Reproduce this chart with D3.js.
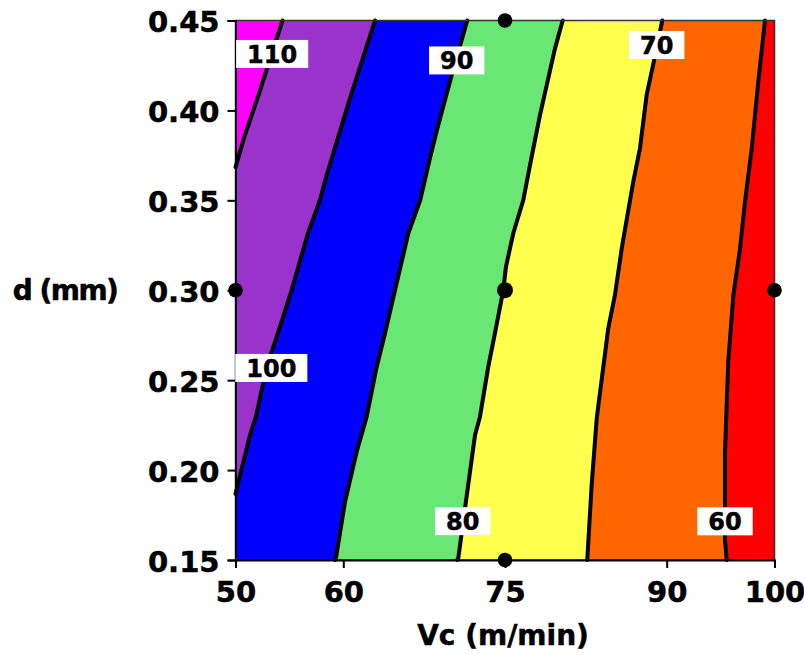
<!DOCTYPE html>
<html>
<head>
<meta charset="utf-8">
<script src="https://cdn.jsdelivr.net/npm/d3@7"></script>
<style>
  body { margin: 0; background: #fff; }
  text { font-family: "DejaVu Sans", Verdana, sans-serif; font-weight: bold; fill: #000; stroke: #000; stroke-width: 0.5px; }
</style>
</head>
<body>
<svg id="chart" width="804" height="655"></svg>
<script>
// Axis ticks
const xTicks = [50, 60, 75, 90, 100];
const yTicks = [0.15, 0.20, 0.25, 0.30, 0.35, 0.40, 0.45];

// Contour levels and the band colours (lowest band first: <60, 60-70, ..., >110)
const levels = [60, 70, 80, 90, 100, 110];
const bandColors = ["#FF0000", "#FF6600", "#FFFF4D", "#69E673", "#0000FF", "#9933CC", "#FF00FF"];

// Contour lines as [Vc, d] points, from the top edge downwards
const line60 = [[99.12, 0.45], [98.50, 0.416], [97.89, 0.379], [97.26, 0.349], [96.80, 0.323], [96.18, 0.297], [95.71, 0.260], [95.41, 0.210], [95.41, 0.161], [95.57, 0.15]];
const line70 = [[89.59, 0.45], [89.07, 0.4345], [88.14, 0.4086], [87.52, 0.3789], [86.90, 0.3604], [85.83, 0.3233], [85.20, 0.2974], [84.58, 0.2788], [83.51, 0.2288], [83.04, 0.1917], [82.63, 0.15]];
const line80 = [[80.35, 0.45], [79.64, 0.4345], [78.25, 0.3975], [77.32, 0.3696], [76.70, 0.3502], [75.77, 0.3317], [75.09, 0.3131], [74.84, 0.3001], [74.54, 0.2908], [74.07, 0.2761], [73.45, 0.2575], [72.68, 0.2297], [72.22, 0.2195], [71.50, 0.1880], [70.67, 0.1511], [70.57, 0.15]];
const line90 = [[71.50, 0.45], [70.06, 0.4197], [68.81, 0.3919], [68.04, 0.3735], [67.14, 0.3502], [66.03, 0.3317], [64.80, 0.3001], [63.87, 0.2761], [63.10, 0.2575], [62.17, 0.2297], [61.24, 0.2102], [60.16, 0.1824], [59.32, 0.1511], [59.23, 0.15]];
const line100 = [[62.94, 0.45], [60.62, 0.4067], [58.46, 0.3641], [57.84, 0.3502], [56.73, 0.3318], [55.21, 0.3001], [53.94, 0.2762], [52.89, 0.2575], [51.90, 0.2297], [51.35, 0.2195], [50.00, 0.1867]];
const line110 = [[54.36, 0.45], [52.14, 0.4086], [50.79, 0.3847], [50.00, 0.3685]];
const contourLines = [line60, line70, line80, line90, line100, line110];

// Where each level label sits on its line
const labelAt = [[95.41, 0.1715], [89.07, 0.4364], [71.08, 0.1716], [70.52, 0.4278], [53.32, 0.2568], [53.40, 0.4314]];

// Experimental design points (Vc, d)
const designPoints = [[75, 0.45], [50, 0.30], [75, 0.30], [100, 0.30], [75, 0.15]];

const svg = d3.select("#chart");
const x = d3.scaleLinear().domain([50, 100]).range([235.5, 774.5]);
const y = d3.scaleLinear().domain([0.15, 0.45]).range([560, 20.5]);
const [xMin, xMax] = x.domain();
const [yMin, yMax] = y.domain();

const plot = svg.append("g");

// Lowest band fills the whole plot; every level then paints the area left of its line
plot.append("rect")
  .attr("x", x(xMin)).attr("y", y(yMax))
  .attr("width", x(xMax) - x(xMin)).attr("height", y(yMin) - y(yMax))
  .attr("fill", bandColors[0]);

const poly = d3.line().x(d => x(d[0])).y(d => y(d[1]));
contourLines.forEach((pts, i) => {
  const last = pts[pts.length - 1];
  const ring = pts.concat([[xMin, last[1]], [xMin, pts[0][1]]]);
  plot.append("path")
    .attr("d", poly(ring) + "Z")
    .attr("fill", bandColors[i + 1]);
});

// Contour lines
contourLines.forEach(pts => {
  plot.append("path")
    .attr("d", poly(pts))
    .attr("fill", "none")
    .attr("stroke", "#000")
    .attr("stroke-width", 4)
    .attr("stroke-linejoin", "round")
    .attr("stroke-linecap", "round");
});

// Plot frame
svg.append("rect")
  .attr("x", x(xMin)).attr("y", y(yMax))
  .attr("width", x(xMax) - x(xMin)).attr("height", y(yMin) - y(yMax))
  .attr("fill", "none").attr("stroke", "#333").attr("stroke-width", 1.5);

// Axes
const xAxis = svg.append("g")
  .attr("transform", `translate(0,${y(yMin)})`)
  .call(d3.axisBottom(x).tickValues(xTicks).tickSize(8).tickPadding(10).tickFormat(d3.format("d")));
const yAxis = svg.append("g")
  .attr("transform", `translate(${x(xMin)},0)`)
  .call(d3.axisLeft(y).tickValues(yTicks).tickSize(8).tickPadding(10).tickFormat(d3.format(".2f")));
[xAxis, yAxis].forEach(g => {
  g.select(".domain").attr("stroke", "#000").attr("stroke-width", 2);
  g.selectAll(".tick line").attr("stroke", "#000").attr("stroke-width", 2);
  g.selectAll(".tick text")
    .attr("font-family", "DejaVu Sans, Verdana, sans-serif")
    .attr("font-weight", "bold").attr("font-size", 29).attr("fill", "#000");
});
xAxis.selectAll(".tick text").attr("dy", null).attr("y", 42);
yAxis.selectAll(".tick text").attr("dy", null).attr("y", 11).attr("x", -16);

// Axis titles
svg.append("text")
  .attr("x", 503).attr("y", 645)
  .attr("text-anchor", "middle").attr("font-size", 28)
  .text("Vc (m/min)");
svg.append("text")
  .attr("x", 65).attr("y", 300)
  .attr("text-anchor", "middle").attr("font-size", 28).attr("letter-spacing", -1.5)
  .text("d (mm)");

// Design points
svg.append("g").selectAll("circle")
  .data(designPoints)
  .join("circle")
  .attr("cx", d => x(d[0])).attr("cy", d => y(d[1]))
  .attr("r", d => (d[0] === 75 && d[1] === 0.30) ? 8 : 7.3)
  .attr("fill", "#000");

// Level labels in white boxes
const lab = svg.append("g").selectAll("g")
  .data(levels.map((v, i) => ({ v, p: labelAt[i] })))
  .join("g")
  .attr("transform", d => `translate(${x(d.p[0])},${y(d.p[1])})`);
const boxes = lab.append("rect").attr("fill", "#fff");
const texts = lab.append("text")
  .attr("text-anchor", "middle").attr("font-size", 24).attr("y", 8.7)
  .text(d => d.v);
texts.each(function (d, i) {
  const w = this.getComputedTextLength() + 22;
  d3.select(boxes.nodes()[i])
    .attr("x", -w / 2).attr("y", -14).attr("width", w).attr("height", 28);
});
</script>
</body>
</html>
